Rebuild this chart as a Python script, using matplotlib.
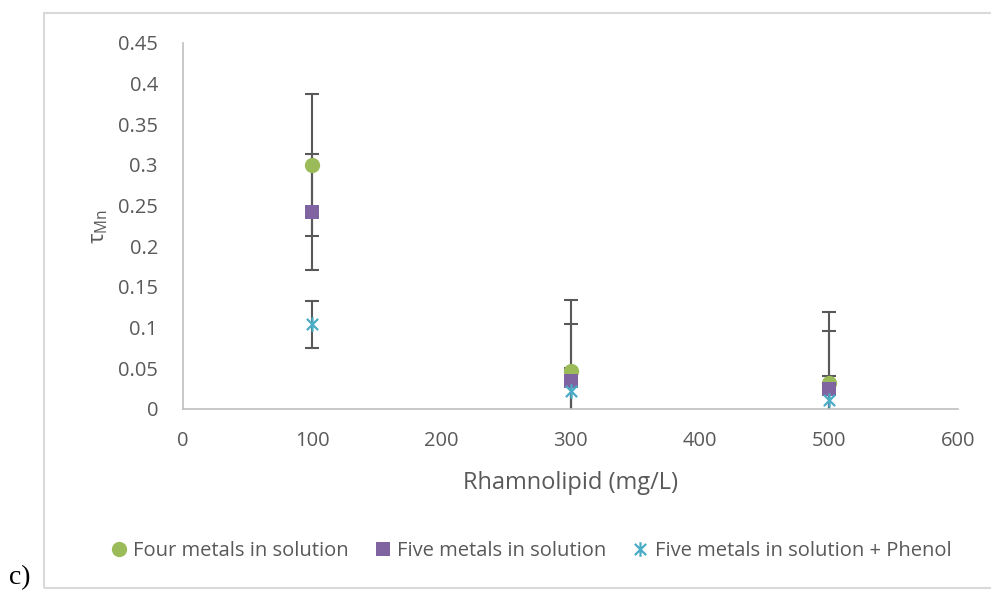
import matplotlib
matplotlib.use("Agg")
import matplotlib.pyplot as plt
import matplotlib.patches as mpatches
from matplotlib.path import Path

plt.rcParams['font.family'] = ['Open Sans', 'DejaVu Sans']
plt.rcParams['mathtext.fontset'] = 'custom'
plt.rcParams['mathtext.rm'] = 'Open Sans'

# data
rhamnolipid = [100, 300, 500]
four_metals = [0.300, 0.047, 0.032]
five_metals = [0.242, 0.034, 0.025]
five_phenol = [0.104, 0.022, 0.011]
err_four = 0.087
err_five = 0.071
err_phenol = 0.029

x_ticks = [0, 100, 200, 300, 400, 500, 600]
y_ticks = [0, 0.05, 0.1, 0.15, 0.2, 0.25, 0.3, 0.35, 0.4, 0.45]
y_ticklabels = ['0', '0.05', '0.1', '0.15', '0.2', '0.25', '0.3', '0.35', '0.4', '0.45']

GREEN = '#9BBB59'
PURPLE = '#8064A2'
CYAN = '#4BACC6'
TEXT = '#595959'
ERRC = '#595959'

# Excel-like star marker: X plus vertical stroke
star = Path([(-1, -1), (1, 1), (-1, 1), (1, -1), (0, -1.3), (0, 1.3)],
            [Path.MOVETO, Path.LINETO, Path.MOVETO, Path.LINETO, Path.MOVETO, Path.LINETO])

fig = plt.figure(figsize=(9.91, 5.94), dpi=100)
ax = fig.add_axes([183 / 991, 1 - 409 / 594, (958 - 183) / 991, (409 - 43) / 594])

series = [
    (four_metals, err_four, GREEN, 'o', 11, 'Four metals in solution'),
    (five_metals, err_five, PURPLE, 's', 10, 'Five metals in solution'),
    (five_phenol, err_phenol, CYAN, star, 10.5, 'Five metals in solution + Phenol'),
]

handles = []
for vals, err, col, mk, ms, lab in series:
    ax.errorbar(rhamnolipid, vals, yerr=err, fmt='none', ecolor=ERRC,
                elinewidth=1.5, capsize=4.7, capthick=1.5, zorder=2)
    kw = dict(markeredgewidth=1.6, markeredgecolor=col) if mk is star else dict(markeredgewidth=0)
    h, = ax.plot(rhamnolipid, vals, linestyle='none', marker=mk, markersize=ms,
                 color=col, label=lab, zorder=3, **kw)
    handles.append(h)

ax.set_xlim(0, 600)
ax.set_ylim(0, 0.45)
ax.set_xticks(x_ticks)
ax.set_yticks(y_ticks)
ax.set_yticklabels(y_ticklabels)
ax.tick_params(length=0, labelsize=14.5, labelcolor=TEXT)
ax.tick_params(axis='y', pad=18)
ax.tick_params(axis='x', pad=16)
for s in ['top', 'right']:
    ax.spines[s].set_visible(False)
for s in ['left', 'bottom']:
    ax.spines[s].set_color('#bfbfbf')
    ax.spines[s].set_linewidth(1.2)

ax.set_xlabel('Rhamnolipid (mg/L)', fontsize=17, color=TEXT, labelpad=14)
ax.set_ylabel(r'τ$_{\mathrm{Mn}}$', fontsize=16, color=TEXT, labelpad=6)

fig.legend(handles=handles, loc='center', bbox_to_anchor=(529 / 991, 1 - 551 / 594),
           ncol=3, frameon=False, fontsize=14.5, labelcolor=TEXT,
           handletextpad=0.1, columnspacing=1.1, handlelength=1.2)

# chart border
fig.patches.append(mpatches.Rectangle((44 / 991, 1 - 588 / 594), 1.0, 575 / 594,
                                      transform=fig.transFigure, fill=False,
                                      edgecolor='#d9d9d9', linewidth=1.5))
fig.text(9 / 991, 1 - 578 / 594, 'c)', fontsize=20, family='Liberation Serif',
         color='black', va='center', ha='left')

fig.savefig('out.png', dpi=100)
